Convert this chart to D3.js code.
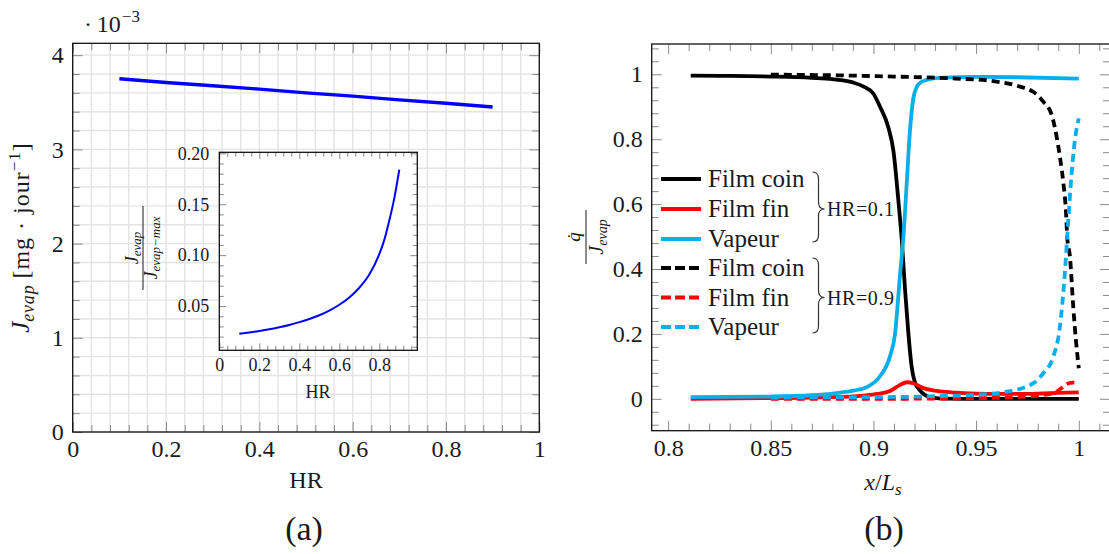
<!DOCTYPE html>
<html><head><meta charset="utf-8">
<script src="https://cdn.jsdelivr.net/npm/d3@7"></script>
<style>
body{margin:0;background:#fff;}
svg text{font-family:"Liberation Serif","Times New Roman","DejaVu Serif",serif;}
</style></head><body>
<script>
// ---------- (a) main plot data ----------
const hrMain = [0.1, 0.2, 0.3, 0.4, 0.5, 0.6, 0.7, 0.8, 0.9];
const jevapMain = [3.75, 3.71, 3.675, 3.64, 3.6, 3.565, 3.525, 3.49, 3.45];
// ---------- (a) inset data ----------
const hrInset = [0.1, 0.15, 0.2, 0.25, 0.3, 0.35, 0.4, 0.45, 0.5, 0.55, 0.6, 0.65, 0.7, 0.75, 0.8, 0.825, 0.85, 0.875, 0.9];
const jevapRatio = [0.0228, 0.0241, 0.0256, 0.0273, 0.0293, 0.0315, 0.0342, 0.0373, 0.041, 0.0456, 0.0513, 0.0584, 0.068, 0.081, 0.101, 0.115, 0.134, 0.156, 0.184];
// ---------- (a) tick labels ----------
const mainXTicks = [0, 0.2, 0.4, 0.6, 0.8, 1];
const mainYTicks = [0, 1, 2, 3, 4];
const insetXTicks = [0, 0.2, 0.4, 0.6, 0.8];
const insetYTicks = [0.05, 0.10, 0.15, 0.20];

// ---------- (b) data ----------
const xCoin01 = [0.811, 0.83, 0.85, 0.87, 0.88, 0.89, 0.895, 0.9, 0.9032, 0.9073, 0.9097, 0.9121, 0.9138, 0.9154, 0.917, 0.9186, 0.92, 0.9227, 0.925, 0.929, 0.935, 0.95, 1.0];
const qCoin01 = [0.996, 0.995, 0.993, 0.989, 0.985, 0.975, 0.963, 0.94, 0.9, 0.835, 0.765, 0.613, 0.489, 0.335, 0.202, 0.099, 0.055, 0.025, 0.012, 0.003, 0.0005, 0, 0];
const xFin01 = [0.811, 0.85, 0.88, 0.895, 0.902, 0.908, 0.913, 0.9162, 0.9194, 0.9243, 0.93, 0.94, 0.95, 0.96, 0.97, 0.98, 0.99, 1.0];
const qFin01 = [0.0, 0.002, 0.005, 0.01, 0.015, 0.024, 0.043, 0.051, 0.048, 0.033, 0.025, 0.019, 0.016, 0.015, 0.015, 0.016, 0.018, 0.02];
const xVap01 = [0.811, 0.85, 0.87, 0.88, 0.89, 0.897, 0.903, 0.908, 0.9105, 0.913, 0.9146, 0.9162, 0.9178, 0.9194, 0.921, 0.923, 0.926, 0.932, 0.94, 0.95, 0.97, 1.0];
const qVap01 = [0.005, 0.007, 0.011, 0.016, 0.025, 0.037, 0.068, 0.13, 0.2, 0.387, 0.5, 0.664, 0.828, 0.925, 0.96, 0.975, 0.983, 0.989, 0.991, 0.992, 0.991, 0.987];
const xCoin09 = [0.85, 0.88, 0.91, 0.94, 0.9584, 0.9714, 0.9778, 0.9827, 0.9868, 0.9892, 0.9908, 0.9925, 0.9938, 0.9944, 0.9957, 0.9973, 0.9986, 1.0];
const qCoin09 = [0.999, 0.997, 0.993, 0.987, 0.979, 0.962, 0.946, 0.916, 0.875, 0.808, 0.746, 0.664, 0.572, 0.495, 0.438, 0.284, 0.181, 0.094];
const xFin09 = [0.85, 0.9, 0.95, 0.97, 0.98, 0.9876, 0.991, 0.994, 0.997, 1.0];
const qFin09 = [0.0, 0.0, 0.002, 0.005, 0.01, 0.017, 0.03, 0.045, 0.05, 0.047];
const xVap09 = [0.85, 0.9, 0.93, 0.9486, 0.9649, 0.9779, 0.9827, 0.9876, 0.9908, 0.9932, 0.9948, 0.9965, 0.9981, 1.0];
const qVap09 = [0.004, 0.005, 0.008, 0.012, 0.022, 0.048, 0.079, 0.13, 0.222, 0.387, 0.541, 0.695, 0.797, 0.864];
// ---------- (b) ticks & legend ----------
const bXTicks = [0.8, 0.85, 0.9, 0.95, 1];
const bYTicks = [0, 0.2, 0.4, 0.6, 0.8, 1];
const legendLabels = ["Film coin", "Film fin", "Vapeur"];
const groupLabels = ["HR=0.1", "HR=0.9"];
const seriesColors = ["#000000", "#ff0000", "#0aaee8"];

// ================= drawing =================
const FONT = "Liberation Serif";
const TICK = "#8a8a8a", GRID = "#e4e4e4", TXT = "#1a1a1a";
const svg = d3.select("body").append("svg").attr("width", 1109).attr("height", 554)
  .attr("font-family", FONT);

function tickAxis(g, gen, tx, ty) {
  const a = g.append("g").attr("transform", `translate(${tx},${ty})`).call(gen);
  a.select(".domain").remove();
  a.attr("font-family", FONT);
  a.selectAll(".tick line").attr("stroke", TICK).attr("stroke-width", 1);
  return a;
}
function minorVals(lo, hi, step, majors) {
  return d3.range(Math.round(lo / step), Math.round(hi / step) + 1).map(i => +(i * step).toFixed(6))
    .filter(v => !majors.some(m => Math.abs(m - v) < 1e-9));
}
function frame(g, x, y, o) {
  const [x0, x1] = x.range(), [y1, y0] = y.range();
  const xm = minorVals(o.xMinor[0], o.xMinor[1], o.xMinor[2], o.xMajor);
  const ym = minorVals(o.yMinor[0], o.yMinor[1], o.yMinor[2], o.yMajor);
  const bl = tickAxis(g, d3.axisBottom(x).tickValues(o.xMajor).tickSize(-o.maj).tickPadding(o.padX).tickFormat(o.xFmt), 0, y1);
  bl.selectAll("text").attr("font-size", o.fs);
  tickAxis(g, d3.axisBottom(x).tickValues(xm).tickSize(-o.min).tickFormat(""), 0, y1);
  tickAxis(g, d3.axisTop(x).tickValues(o.xMajor).tickSize(-o.maj).tickFormat(""), 0, y0);
  tickAxis(g, d3.axisTop(x).tickValues(xm).tickSize(-o.min).tickFormat(""), 0, y0);
  const ll = tickAxis(g, d3.axisLeft(y).tickValues(o.yMajor).tickSize(-o.maj).tickPadding(o.padY).tickFormat(o.yFmt), x0, 0);
  ll.selectAll("text").attr("font-size", o.fs);
  tickAxis(g, d3.axisLeft(y).tickValues(ym).tickSize(-o.min).tickFormat(""), x0, 0);
  tickAxis(g, d3.axisRight(y).tickValues(o.yMajor).tickSize(-o.maj).tickFormat(""), x1, 0);
  tickAxis(g, d3.axisRight(y).tickValues(ym).tickSize(-o.min).tickFormat(""), x1, 0);
  g.append("rect").attr("x", x0).attr("y", y0).attr("width", x1 - x0).attr("height", y1 - y0)
    .attr("fill", "none").attr("stroke", "#111").attr("stroke-width", 1.3);
}
const fmt = d => (d === 0 ? "0" : String(d));

// ---------------- (a) ----------------
const gA = svg.append("g");
const xA = d3.scaleLinear([0, 1], [72.7, 539.3]);
const yA = d3.scaleLinear([0, 4.126], [432, 43.3]);
const gridX = d3.range(0, 26).map(i => i * 0.04);
const gridY = d3.range(0, 21).map(i => i * 0.2);
gA.append("g").selectAll("line").data(gridX).join("line")
  .attr("x1", d => xA(d)).attr("x2", d => xA(d)).attr("y1", yA.range()[0]).attr("y2", yA.range()[1])
  .attr("stroke", GRID).attr("stroke-width", 1.4);
gA.append("g").selectAll("line").data(gridY).join("line")
  .attr("y1", d => yA(d)).attr("y2", d => yA(d)).attr("x1", xA.range()[0]).attr("x2", xA.range()[1])
  .attr("stroke", GRID).attr("stroke-width", 1.4);
frame(gA, xA, yA, {xMajor: mainXTicks, yMajor: mainYTicks, xMinor: [0, 1, 0.04], yMinor: [0, 4.1, 0.2],
  maj: 10, min: 7, padX: 8, padY: 9, fs: 24, xFmt: fmt, yFmt: fmt});
gA.append("path").datum(hrMain.map((h, i) => [h, jevapMain[i]]))
  .attr("d", d3.line().x(d => xA(d[0])).y(d => yA(d[1])))
  .attr("fill", "none").attr("stroke", "#0000ff").attr("stroke-width", 3.4);
const mult = gA.append("text").attr("x", 84).attr("y", 32).attr("font-size", 24);
mult.append("tspan").text("·\u200910");
mult.append("tspan").attr("font-size", 17).attr("dy", -10).attr("dx", 1).text("−3");
const yl = gA.append("text").attr("transform", "translate(29,238) rotate(-90)").attr("text-anchor", "middle").attr("font-size", 24);
yl.append("tspan").attr("font-style", "italic").attr("font-size", 25).text("J");
yl.append("tspan").attr("font-style", "italic").attr("font-size", 18).attr("dy", 5).attr("letter-spacing", 0.8).text("evap");
yl.append("tspan").attr("dy", -5).attr("dx", 6).attr("letter-spacing", 1).text("[mg · jour");
yl.append("tspan").attr("font-size", 17).attr("dy", -9).attr("letter-spacing", 1).text("−1");
yl.append("tspan").attr("dy", 9).text("]");
gA.append("text").attr("x", 306).attr("y", 488).attr("text-anchor", "middle").attr("font-size", 24).text("HR");
gA.append("text").attr("x", 304).attr("y", 540).attr("text-anchor", "middle").attr("font-size", 34).text("(a)");

// inset
const xI = d3.scaleLinear([0, 0.99], [219.3, 417.3]);
const yI = d3.scaleLinear([0.00657, 0.201], [350.3, 152.3]);
gA.append("rect").attr("x", 219.3).attr("y", 152.3).attr("width", 198).attr("height", 198).attr("fill", "#fff");
frame(gA, xI, yI, {xMajor: insetXTicks, yMajor: insetYTicks, xMinor: [0, 0.96, 0.04], yMinor: [0.01, 0.2, 0.01],
  maj: 7, min: 4.5, padX: 8, padY: 10, fs: 18, xFmt: fmt, yFmt: d3.format(".2f")});
gA.append("path").datum(hrInset.map((h, i) => [h, jevapRatio[i]]))
  .attr("d", d3.line().x(d => xI(d[0])).y(d => yI(d[1])).curve(d3.curveMonotoneX))
  .attr("fill", "none").attr("stroke", "#0000ff").attr("stroke-width", 2);
gA.append("text").attr("x", 318).attr("y", 398).attr("text-anchor", "middle").attr("font-size", 18).text("HR");
const fr = gA.append("g").attr("transform", "translate(143,248) rotate(-90)");
const num = fr.append("text").attr("y", -5).attr("text-anchor", "middle").attr("font-size", 18).attr("font-style", "italic");
num.append("tspan").text("J");
num.append("tspan").attr("font-size", 13).attr("dy", 3).text("evap");
fr.append("line").attr("x1", -42).attr("x2", 42).attr("y1", 0).attr("y2", 0).attr("stroke", TXT).attr("stroke-width", 1);
const den = fr.append("text").attr("y", 14).attr("text-anchor", "middle").attr("font-size", 18).attr("font-style", "italic");
den.append("tspan").text("J");
den.append("tspan").attr("font-size", 13).attr("dy", 3).text("evap−max");

// ---------------- (b) ----------------
const gB = svg.append("g");
const xB = d3.scaleLinear([0.792, 1.0152], [651.7, 1110]);
const yB = d3.scaleLinear([-0.0983, 1.0934], [430.7, 44]);
frame(gB, xB, yB, {xMajor: bXTicks, yMajor: bYTicks, xMinor: [0.8, 1.01, 0.01], yMinor: [-0.08, 1.08, 0.04],
  maj: 10, min: 7, padX: 8, padY: 9, fs: 24, xFmt: fmt, yFmt: fmt});
const lineB = d3.line().x(d => xB(d[0])).y(d => yB(d[1])).curve(d3.curveMonotoneX);
const series = [
  {x: xCoin01, y: qCoin01, c: 0, dash: null},
  {x: xFin01, y: qFin01, c: 1, dash: null},
  {x: xVap01, y: qVap01, c: 2, dash: null},
  {x: xCoin09, y: qCoin09, c: 0, dash: "8,5"},
  {x: xFin09, y: qFin09, c: 1, dash: "8,5"},
  {x: xVap09, y: qVap09, c: 2, dash: "8,5"}
];
series.forEach(s => {
  gB.append("path").datum(s.x.map((v, i) => [v, s.y[i]]))
    .attr("d", lineB).attr("fill", "none").attr("stroke", seriesColors[s.c])
    .attr("stroke-width", 3.8).attr("stroke-dasharray", s.dash);
});
const rowY = [179, 209, 239, 268, 297.5, 327];
series.forEach((s, i) => {
  gB.append("line").attr("x1", 661).attr("x2", 701).attr("y1", rowY[i]).attr("y2", rowY[i])
    .attr("stroke", seriesColors[s.c]).attr("stroke-width", 3.8).attr("stroke-dasharray", s.dash ? "10,4" : null);
  gB.append("text").attr("x", 708).attr("y", rowY[i] + 8).attr("font-size", 25).text(legendLabels[i % 3]);
});
function brace(x0, yTop, yBot, yMid, w) {
  const xm = x0 + w / 2, r = 7;
  return `M${x0},${yTop} Q${xm},${yTop} ${xm},${yTop + r} L${xm},${yMid - r} Q${xm},${yMid} ${x0 + w},${yMid}` +
    ` Q${xm},${yMid} ${xm},${yMid + r} L${xm},${yBot - r} Q${xm},${yBot} ${x0},${yBot}`;
}
[[172, 242, 209], [258, 333, 297.5]].forEach((b, i) => {
  gB.append("path").attr("d", brace(812.5, b[0], b[1], b[2], 12)).attr("fill", "none").attr("stroke", "#333").attr("stroke-width", 1.2);
  gB.append("text").attr("x", 827).attr("y", b[2] + 7).attr("font-size", 20).attr("letter-spacing", 0.6).text(groupLabels[i]);
});
const xl = gB.append("text").attr("x", 883).attr("y", 490).attr("text-anchor", "middle").attr("font-size", 24);
xl.append("tspan").attr("font-style", "italic").text("x");
xl.append("tspan").text("/");
xl.append("tspan").attr("font-style", "italic").text("L");
xl.append("tspan").attr("font-style", "italic").attr("font-size", 17).attr("dy", 5).text("s");
gB.append("text").attr("x", 884).attr("y", 540).attr("text-anchor", "middle").attr("font-size", 34).text("(b)");
const fb = gB.append("g").attr("transform", "translate(586,237) rotate(-90)");
fb.append("text").attr("y", -6).attr("text-anchor", "middle").attr("font-size", 19).attr("font-style", "italic").text("q̇");
fb.append("line").attr("x1", -27).attr("x2", 27).attr("y1", 0).attr("y2", 0).attr("stroke", TXT).attr("stroke-width", 1);
const fbd = fb.append("text").attr("y", 17).attr("text-anchor", "middle").attr("font-size", 20).attr("font-style", "italic");
fbd.append("tspan").text("J");
fbd.append("tspan").attr("font-size", 14).attr("dy", 4).text("evap");

svg.selectAll("text").attr("font-family", FONT).style("font-family", FONT).style("fill", TXT);
</script>
</body></html>
